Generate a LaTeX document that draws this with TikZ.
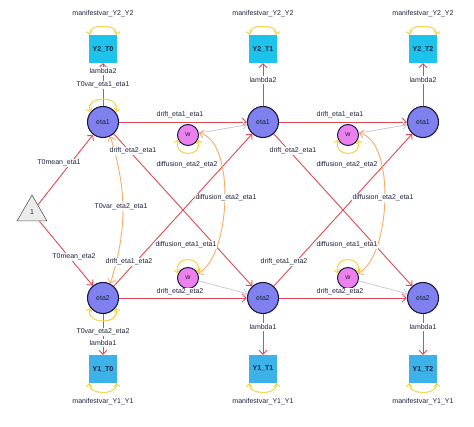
\documentclass[tikz,border=0pt]{standalone}
\usepackage{fontspec}
\setmainfont{Liberation Sans}
\usetikzlibrary{shapes.geometric,arrows.meta}
\definecolor{redE}{RGB}{222,72,82}
\definecolor{orangeE}{RGB}{247,172,104}
\definecolor{yellowE}{RGB}{245,210,70}
\definecolor{grayE}{RGB}{200,200,215}
\definecolor{etaF}{RGB}{128,128,238}
\definecolor{etaD}{RGB}{25,25,70}
\definecolor{wF}{RGB}{236,128,236}
\definecolor{y2F}{RGB}{30,195,236}
\definecolor{y1F}{RGB}{60,178,232}
\definecolor{txt}{RGB}{30,35,60}
\tikzset{
 every node/.style={font=\fontsize{7}{8}\selectfont, text=txt},
 eta/.style={circle, fill=etaF, draw=etaD, line width=1.1pt, minimum size=31pt, inner sep=0pt},
 wnode/.style={circle, fill=wF, draw=etaD, line width=1pt, minimum size=21pt, inner sep=0pt},
 obs2/.style={rectangle, fill=y2F, minimum size=28pt, inner sep=0pt, font=\fontsize{7}{8}\selectfont\bfseries},
 obs1/.style={obs2, fill=y1F},
 trinode/.style={regular polygon, regular polygon sides=3, minimum size=34.6pt, inner sep=0pt, fill=gray!15, draw=gray!70!black, line width=0.6pt},
 lbl/.style={fill=white, inner sep=1pt},
 redarr/.style={draw=redE, line width=0.9pt, -{Straight Barb[length=4pt,width=8pt]}},
 grayarr/.style={draw=grayE, line width=0.8pt, -{Straight Barb[length=4pt,width=8pt]}},
 orarr/.style={draw=orangeE, line width=0.9pt, {Straight Barb[length=4pt,width=8pt]}-{Straight Barb[length=4pt,width=8pt]}},
 loopy/.style={draw=yellowE, line width=1pt, {Straight Barb[length=3pt,width=6pt]}-{Straight Barb[length=3pt,width=6pt]}},
}
\begin{document}
\begin{tikzpicture}[x=1pt,y=1pt]
\useasboundingbox (0,0) rectangle (474,426);
% nodes
\node[trinode] (one) at (32,213.7) {1};
\node[eta] (e1a) at (103,304) {eta1};
\node[eta] (e1b) at (263,304) {eta1};
\node[eta] (e1c) at (423,304) {eta1};
\node[eta] (e2a) at (103,128) {eta2};
\node[eta] (e2b) at (263,128) {eta2};
\node[eta] (e2c) at (423,128) {eta2};
\node[obs2] (Y2a) at (103,377) {Y2\_T0};
\node[obs2] (Y2b) at (263,377) {Y2\_T1};
\node[obs2] (Y2c) at (423,377) {Y2\_T2};
\node[obs1] (Y1a) at (103,57) {Y1\_T0};
\node[obs1] (Y1b) at (263,57) {Y1\_T1};
\node[obs1] (Y1c) at (423,57) {Y1\_T2};
\node[wnode] (w1) at (188,291) {w};
\node[wnode] (w3) at (348,291) {w};
\node[wnode] (w2) at (188,148) {w};
\node[wnode] (w4) at (348,148) {w};
% red edges
\draw[redarr] (one) -- (e1a);
\draw[redarr] (one) -- (e2a);
\draw[redarr] (e1a) -- (Y2a);
\draw[redarr] (e1b) -- (Y2b);
\draw[redarr] (e1c) -- (Y2c);
\draw[redarr] (e2a) -- (Y1a);
\draw[redarr] (e2b) -- (Y1b);
\draw[redarr] (e2c) -- (Y1c);
\draw[redarr] (e1a) -- (e1b);
\draw[redarr] (e1b) -- (e1c);
\draw[redarr] (e2a) -- (e2b);
\draw[redarr] (e2b) -- (e2c);
\draw[redarr] (e1a) -- (e2b);
\draw[redarr] (e1b) -- (e2c);
\draw[redarr] (e2a) -- (e1b);
\draw[redarr] (e2b) -- (e1c);
% gray edges
\draw[grayarr] (w1) -- (e1b);
\draw[grayarr] (w3) -- (e1c);
\draw[grayarr] (w2) -- (e2b);
\draw[grayarr] (w4) -- (e2c);
% orange covariances
\draw[orarr] (e1a.-63) to[bend left=17] (e2a.63);
\draw[orarr] (w1.10) .. controls +(37,-7) and +(33,17) .. (w2.25);
\draw[orarr] (w3.10) .. controls +(37,-7) and +(33,17) .. (w4.25);
% yellow variance loops
\draw[loopy] ([xshift=1pt]Y2a.north west) .. controls +(-2,11) and +(2,11) .. ([xshift=-1pt]Y2a.north east);
\draw[loopy] ([xshift=1pt]Y2b.north west) .. controls +(-2,11) and +(2,11) .. ([xshift=-1pt]Y2b.north east);
\draw[loopy] ([xshift=1pt]Y2c.north west) .. controls +(-2,11) and +(2,11) .. ([xshift=-1pt]Y2c.north east);
\draw[loopy] ([xshift=1pt]Y1a.south west) .. controls +(-2,-12) and +(2,-12) .. ([xshift=-1pt]Y1a.south east);
\draw[loopy] ([xshift=1pt]Y1b.south west) .. controls +(-2,-12) and +(2,-12) .. ([xshift=-1pt]Y1b.south east);
\draw[loopy] ([xshift=1pt]Y1c.south west) .. controls +(-2,-12) and +(2,-12) .. ([xshift=-1pt]Y1c.south east);
\draw[loopy] (e1a.142) .. controls +(-6,17) and +(6,17) .. (e1a.38);
\draw[loopy] (e2a.-142) .. controls +(-6,-17) and +(6,-17) .. (e2a.-38);
\draw[loopy] (w1.-155) .. controls +(-5,-18) and +(5,-18) .. (w1.-25);
\draw[loopy] (w3.-155) .. controls +(-5,-18) and +(5,-18) .. (w3.-25);
\draw[loopy] (w2.155) .. controls +(-5,18) and +(5,18) .. (w2.25);
\draw[loopy] (w4.155) .. controls +(-5,18) and +(5,18) .. (w4.25);
% labels
\node[lbl] (mv2a) at (103,412) {manifestvar\_Y2\_Y2};
\node[lbl] (mv2b) at (263,412) {manifestvar\_Y2\_Y2};
\node[lbl] (mv2c) at (423,412) {manifestvar\_Y2\_Y2};
\node[lbl] (la2a) at (103,355) {lambda2};
\node[lbl] (la2b) at (263,346) {lambda2};
\node[lbl] (la2c) at (423,346) {lambda2};
\node[lbl] (t0v11) at (103,341) {T0var\_eta1\_eta1};
\node[lbl] (d11a) at (180,311) {drift\_eta1\_eta1};
\node[lbl] (d11b) at (340,311) {drift\_eta1\_eta1};
\node[lbl] (d21a) at (133,275) {drift\_eta2\_eta1};
\node[lbl] (d21b) at (293,275) {drift\_eta2\_eta1};
\node[lbl] (q22a) at (187,261) {diffusion\_eta2\_eta2};
\node[lbl] (q22b) at (347,261) {diffusion\_eta2\_eta2};
\node[lbl] (m1) at (59,263) {T0mean\_eta1};
\node[lbl] (q21a) at (226,228) {diffusion\_eta2\_eta1};
\node[lbl] (q21b) at (383,228) {diffusion\_eta2\_eta1};
\node[lbl] (t0v21) at (121,219) {T0var\_eta2\_eta1};
\node[lbl] (q11a) at (186,181) {diffusion\_eta1\_eta1};
\node[lbl] (q11b) at (347,181) {diffusion\_eta1\_eta1};
\node[lbl] (d12a) at (129,164) {drift\_eta1\_eta2};
\node[lbl] (d12b) at (284,164) {drift\_eta1\_eta2};
\node[lbl] (m2) at (74,169) {T0mean\_eta2};
\node[lbl] (d22a) at (180,134) {drift\_eta2\_eta2};
\node[lbl] (d22b) at (340,134) {drift\_eta2\_eta2};
\node[lbl] (t0v22) at (103,94) {T0var\_eta2\_eta2};
\node[lbl] (la1a) at (103,83) {lambda1};
\node[lbl] (la1b) at (263,99) {lambda1};
\node[lbl] (la1c) at (423,99) {lambda1};
\node[lbl] (mv1a) at (103,24) {manifestvar\_Y1\_Y1};
\node[lbl] (mv1b) at (263,24) {manifestvar\_Y1\_Y1};
\node[lbl] (mv1c) at (423,24) {manifestvar\_Y1\_Y1};
\end{tikzpicture}
\end{document}
